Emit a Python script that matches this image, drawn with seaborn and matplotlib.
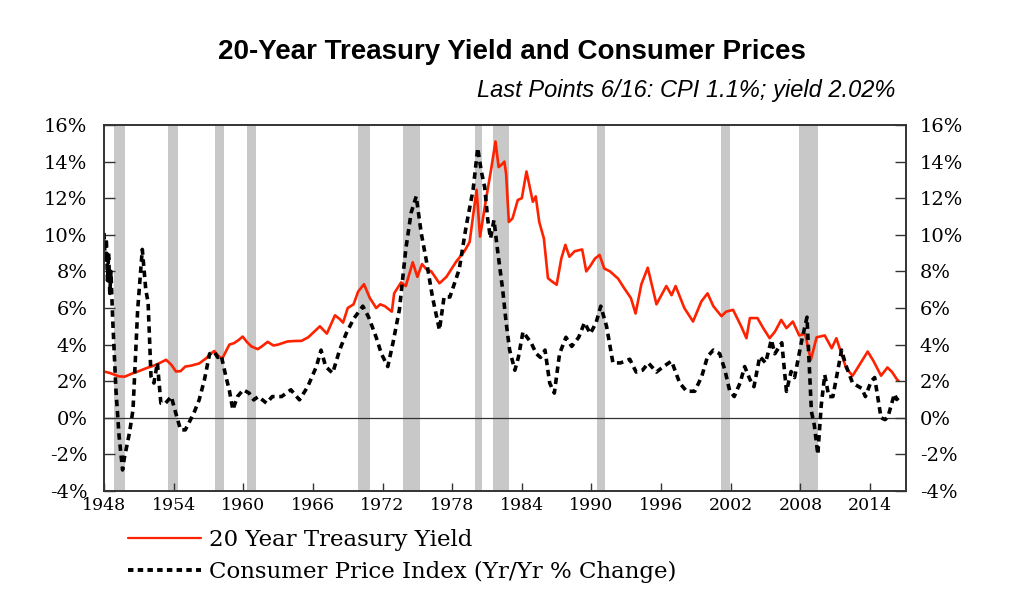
import matplotlib
matplotlib.use("Agg")
import matplotlib.pyplot as plt
import seaborn as sns
import pandas as pd
from matplotlib.lines import Line2D

# ---------------- data ----------------
yield_year = [1948.0, 1948.5, 1949.3, 1949.8, 1950.5, 1951.0, 1951.6, 1952.5, 1953.35, 1953.8,
              1954.2, 1954.6, 1955.0, 1955.5, 1956.2, 1956.8, 1957.1, 1957.5, 1957.9, 1958.2,
              1958.8, 1959.2, 1959.6, 1959.95, 1960.3, 1960.7, 1961.25, 1961.7, 1962.1, 1962.6,
              1963.0, 1963.8, 1964.5, 1965.0, 1965.6, 1966.1, 1966.6, 1967.2, 1967.9, 1968.3,
              1968.6, 1969.0, 1969.5, 1969.9, 1970.4, 1970.9, 1971.45, 1971.8, 1972.2, 1972.8,
              1973.0, 1973.6, 1974.0, 1974.6, 1975.0, 1975.4, 1975.8, 1976.2, 1976.9, 1977.5,
              1978.35, 1979.05, 1979.5, 1980.1, 1980.4, 1980.93, 1981.36, 1981.73, 1982.0, 1982.2,
              1982.5, 1982.65, 1982.88, 1983.2, 1983.65, 1984.0, 1984.4, 1984.95, 1985.2, 1985.5,
              1985.9, 1986.25, 1986.6, 1987.0, 1987.4, 1987.75, 1988.1, 1988.55, 1989.2, 1989.55,
              1989.9, 1990.3, 1990.7, 1991.1, 1991.6, 1992.3, 1992.8, 1993.4, 1993.8, 1994.3,
              1994.85, 1995.6, 1996.45, 1996.9, 1997.25, 1998.0, 1998.75, 1999.47, 2000.0, 2000.5,
              2001.2, 2001.6, 2002.2, 2002.9, 2003.35, 2003.65, 2004.3, 2004.8, 2005.35, 2005.8,
              2006.35, 2006.8, 2007.35, 2007.9, 2008.4, 2008.9, 2009.4, 2010.1, 2010.7, 2011.1,
              2011.95, 2012.5, 2012.9, 2013.8, 2014.3, 2014.95, 2015.5, 2015.9, 2016.35, 2016.46]
yield_pct = [2.53, 2.45, 2.26, 2.25, 2.44, 2.55, 2.70, 2.90, 3.17, 2.90,
             2.53, 2.55, 2.80, 2.85, 2.97, 3.25, 3.44, 3.65, 3.35, 3.25,
             4.00, 4.08, 4.25, 4.44, 4.15, 3.90, 3.75, 3.95, 4.15, 3.95,
             4.00, 4.17, 4.20, 4.20, 4.40, 4.70, 5.00, 4.60, 5.60, 5.40,
             5.20, 6.00, 6.20, 6.90, 7.30, 6.55, 6.00, 6.20, 6.10, 5.80,
             6.80, 7.40, 7.20, 8.50, 7.70, 8.40, 8.10, 8.00, 7.35, 7.70,
             8.54, 9.10, 9.60, 12.46, 9.90, 12.00, 13.60, 15.10, 13.70, 13.80,
             14.00, 13.30, 10.70, 10.90, 11.90, 12.00, 13.46, 11.80, 12.10, 10.70,
             9.80, 7.63, 7.45, 7.27, 8.70, 9.45, 8.80, 9.10, 9.20, 8.00,
             8.30, 8.70, 8.90, 8.16, 8.00, 7.60, 7.10, 6.54, 5.70, 7.30,
             8.20, 6.20, 7.20, 6.70, 7.20, 6.00, 5.26, 6.36, 6.80, 6.10,
             5.55, 5.80, 5.90, 5.00, 4.35, 5.45, 5.45, 4.90, 4.35, 4.70,
             5.35, 4.90, 5.26, 4.50, 4.60, 3.17, 4.40, 4.50, 3.80, 4.35,
             2.70, 2.30, 2.70, 3.62, 3.10, 2.30, 2.75, 2.50, 2.07, 2.02]

cpi_year = [1948.0, 1948.1, 1948.2, 1948.3, 1948.4, 1948.5, 1948.6, 1948.74, 1949.03, 1949.3,
            1949.6, 1949.75, 1949.9, 1950.2, 1950.5, 1950.9, 1951.3, 1951.6, 1951.8, 1952.05,
            1952.3, 1952.6, 1952.9, 1953.3, 1953.8, 1954.1, 1954.6, 1955.0, 1955.3, 1955.8,
            1956.2, 1956.65, 1957.1, 1957.5, 1957.8, 1958.1, 1958.5, 1958.8, 1959.1, 1959.5,
            1960.0, 1960.5, 1960.9, 1961.3, 1962.0, 1962.5, 1963.3, 1964.1, 1964.84, 1965.55,
            1966.3, 1966.7, 1967.1, 1967.7, 1968.3, 1968.86, 1969.5, 1970.3, 1970.8, 1971.45,
            1971.9, 1972.45, 1972.9, 1973.45, 1974.0, 1974.46, 1974.9, 1975.33, 1975.8, 1976.3,
            1976.9, 1977.3, 1977.8, 1978.6, 1979.2, 1979.8, 1980.2, 1980.5, 1980.8, 1981.07,
            1981.3, 1981.6, 1981.9, 1982.35, 1982.65, 1982.95, 1983.4, 1983.7, 1984.1, 1984.8,
            1985.25, 1985.6, 1986.0, 1986.4, 1986.8, 1987.25, 1987.8, 1988.3, 1988.9, 1989.4,
            1989.9, 1990.4, 1990.8, 1991.3, 1991.85, 1992.5, 1993.3, 1993.85, 1994.4, 1994.9,
            1995.6, 1996.2, 1996.9, 1997.6, 1998.2, 1998.9, 1999.5, 2000.0, 2000.5, 2001.05,
            2001.5, 2001.9, 2002.3, 2002.8, 2003.2, 2003.65, 2004.0, 2004.5, 2005.0, 2005.5,
            2005.8, 2006.4, 2006.8, 2007.2, 2007.5, 2008.1, 2008.57, 2008.95, 2009.2, 2009.5,
            2009.8, 2010.1, 2010.45, 2010.8, 2011.55, 2011.9, 2012.5, 2013.3, 2013.6, 2014.1,
            2014.4, 2014.95, 2015.3, 2015.55, 2016.1, 2016.3, 2016.46]
cpi_pct = [10.1, 8.5, 9.8, 7.5, 9.0, 6.8, 8.0, 5.5, 1.5, -1.0,
           -2.85, -2.2, -1.75, -0.8, 0.44, 5.9, 9.2, 7.0, 6.3, 2.26,
           1.9, 3.0, 0.8, 0.8, 1.16, 0.44, -0.66, -0.66, -0.3, 0.35,
           0.98, 2.07, 3.5, 3.6, 3.3, 3.4, 2.26, 1.5, 0.44, 1.16,
           1.53, 1.35, 0.98, 1.16, 0.8, 1.16, 1.16, 1.53, 0.98, 1.7,
           2.8, 3.7, 2.8, 2.44, 3.7, 4.6, 5.4, 6.1, 5.5, 4.4,
           3.5, 2.8, 4.1, 5.9, 9.2, 11.2, 12.1, 10.1, 8.5, 6.6,
           4.8, 6.6, 6.6, 8.1, 10.45, 12.46, 14.74, 13.5, 12.6, 10.8,
           9.8, 10.8, 9.2, 7.0, 5.2, 3.7, 2.6, 3.3, 4.7, 4.1,
           3.5, 3.3, 3.7, 1.9, 1.35, 3.5, 4.4, 3.9, 4.4, 5.2,
           4.6, 5.2, 6.1, 5.0, 3.0, 3.0, 3.2, 2.5, 2.6, 3.0,
           2.5, 2.8, 3.1, 1.9, 1.45, 1.45, 2.26, 3.35, 3.7, 3.5,
           2.6, 1.5, 1.16, 1.9, 2.8, 2.1, 1.7, 3.35, 3.0, 4.26,
           3.5, 4.1, 1.44, 2.53, 2.2, 4.17, 5.5, 0.35, -0.4, -2.0,
           0.7, 2.35, 1.16, 1.16, 3.7, 2.9, 1.9, 1.6, 1.16, 2.0,
           2.2, 0.0, -0.1, 0.07, 1.3, 1.0, 1.1]

recession_start = [1948.9, 1953.5, 1957.6, 1960.3, 1969.9, 1973.8, 1980.0, 1981.5, 1990.5, 2001.2, 2007.9]
recession_end = [1949.8, 1954.4, 1958.3, 1961.1, 1970.9, 1975.2, 1980.6, 1982.9, 1991.2, 2001.9, 2009.5]

year_ticks = [1948, 1954, 1960, 1966, 1972, 1978, 1984, 1990, 1996, 2002, 2008, 2014]
pct_ticks = [-4, -2, 0, 2, 4, 6, 8, 10, 12, 14, 16]

title = "20-Year Treasury Yield and Consumer Prices"
subtitle = "Last Points 6/16: CPI 1.1%; yield 2.02%"
label_yield = "20 Year Treasury Yield"
label_cpi = "Consumer Price Index (Yr/Yr % Change)"

# ---------------- style ----------------
sns.set_theme(style="white")
plt.rcParams["font.family"] = ["DejaVu Serif"]
plt.rcParams["text.color"] = "black"
plt.rcParams["axes.labelcolor"] = "black"
plt.rcParams["xtick.color"] = "black"
plt.rcParams["ytick.color"] = "black"

fig = plt.figure(figsize=(10.24, 6.07), dpi=100)
ax = fig.add_axes([104 / 1024, 1 - 491 / 607, (906 - 104) / 1024, (491 - 125) / 607])

for s, e in zip(recession_start, recession_end):
    ax.axvspan(s, e, color="#c8c8c8", lw=0, zorder=0)

ax.axhline(0, color="#333333", lw=0.9, zorder=1)

df_y = pd.DataFrame({"year": yield_year, "value": yield_pct})
df_c = pd.DataFrame({"year": cpi_year, "value": cpi_pct})
red = "#ff2200"
sns.lineplot(data=df_y, x="year", y="value", ax=ax, color=red, linewidth=1.9, zorder=3)
sns.lineplot(data=df_c, x="year", y="value", ax=ax, color="black", linewidth=2.6,
             linestyle=(0, (1.8, 1.3)), zorder=4)

ax.set_xlim(1948, 2017.1)
ax.set_ylim(-4, 16)
ax.set_xlabel("")
ax.set_ylabel("")
ax.set_xticks(year_ticks)
ax.set_xticklabels([str(y) for y in year_ticks])
ax.set_yticks(pct_ticks)
ax.set_yticklabels([f"{v}%" for v in pct_ticks])

ax2 = ax.twinx()
ax2.set_ylim(-4, 16)
ax2.set_yticks(pct_ticks)
ax2.set_yticklabels([f"{v}%" for v in pct_ticks])
ax2.grid(False)

for a in (ax, ax2):
    for sp in a.spines.values():
        sp.set_visible(True)
        sp.set_color("#333333")
        sp.set_linewidth(1.2)

ax.tick_params(axis="y", direction="in", length=8, width=1, pad=12, labelsize=14,
               left=True, right=False, colors="#333333", labelcolor="black")
ax.tick_params(axis="x", direction="in", length=6, width=1, pad=4, labelsize=12.5,
               bottom=True, colors="#333333", labelcolor="black")
ax2.tick_params(axis="y", direction="in", length=8, width=1, pad=10, labelsize=14,
                right=True, left=False, colors="#333333", labelcolor="black")

# titles
fig.text(0.5, 1 - 52 / 607, title, ha="center", va="center", fontsize=20, fontweight="bold",
         color="black", family=["Liberation Sans", "DejaVu Sans"])
fig.text(895 / 1024, 1 - 90 / 607, subtitle, ha="right", va="center", fontsize=17,
         style="italic", color="black", family=["Liberation Sans", "DejaVu Sans"])

# legend
handles = [Line2D([0], [0], color=red, lw=1.6),
           Line2D([0], [0], color="black", lw=2.8, linestyle=(0, (1.4, 1.1)))]
fig.legend(handles, [label_yield, label_cpi], loc="upper left",
           bbox_to_anchor=(128 / 1024, 1 - 529 / 607), frameon=False,
           prop={"family": "DejaVu Serif", "size": 16.5}, handlelength=3.2, handletextpad=0.35,
           labelspacing=0.42, borderaxespad=0, borderpad=0)

fig.savefig("out.png", dpi=100, facecolor="white")
